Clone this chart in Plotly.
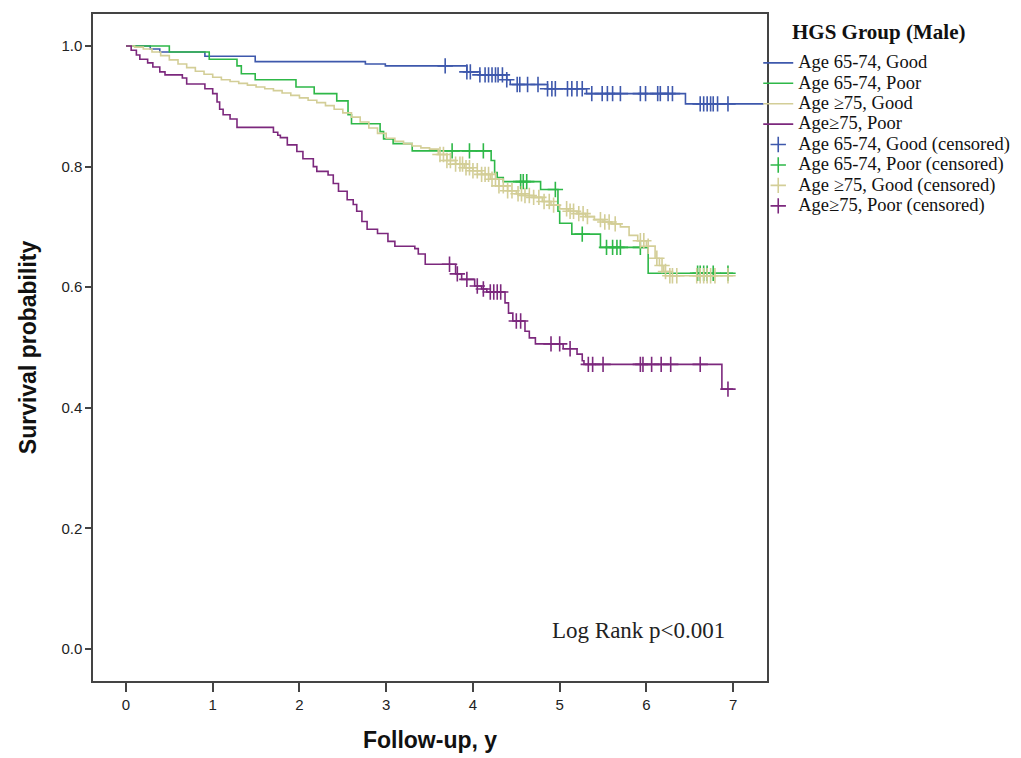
import numpy as np
import plotly.graph_objects as go

# ---- Data (Kaplan-Meier step knots) ----
blue_t = [0, 0.28, 0.39, 0.91, 1.49, 2.76, 2.99, 3.93, 4.08, 4.39, 4.43, 4.86, 5.31, 6.45, 7.35]
blue_s = [1.0, 0.995, 0.990, 0.983, 0.974, 0.970, 0.967, 0.957, 0.952, 0.944, 0.936, 0.929, 0.921, 0.904, 0.904]
blue_cens = [3.68, 3.93, 3.97, 4.08, 4.14, 4.18, 4.22, 4.26, 4.29, 4.34, 4.39, 4.51, 4.54, 4.63, 4.75,
             4.86, 4.91, 4.95, 5.09, 5.14, 5.20, 5.26, 5.37, 5.49, 5.55, 5.61, 5.70, 5.93, 5.99, 6.13,
             6.16, 6.25, 6.30, 6.62, 6.66, 6.70, 6.74, 6.77, 6.82, 6.94]

green_t = [0, 0.50, 0.96, 1.28, 1.33, 1.49, 1.96, 2.17, 2.43, 2.56, 2.60, 2.93, 2.97, 3.08, 3.30,
           4.21, 4.25, 4.28, 4.35, 4.78, 4.98, 5.00, 5.14, 5.47, 6.02, 7.0]
green_s = [1.0, 0.990, 0.978, 0.967, 0.954, 0.944, 0.932, 0.921, 0.909, 0.886, 0.871, 0.858, 0.846, 0.838, 0.826,
           0.810, 0.790, 0.782, 0.775, 0.762, 0.726, 0.706, 0.688, 0.666, 0.623, 0.623]
green_cens = [3.76, 3.96, 4.12, 4.55, 4.58, 4.62, 4.95, 5.26, 5.54, 5.61, 5.66, 5.70, 5.93,
              6.59, 6.62, 6.66, 6.70, 6.77, 6.94]

tan_t = [0, 0.1, 0.2, 0.3, 0.4, 0.5, 0.6, 0.7, 0.8, 0.9, 1.0, 1.1, 1.2, 1.3, 1.4, 1.5, 1.6, 1.7, 1.8, 1.9,
         2.0, 2.1, 2.2, 2.3, 2.4, 2.5, 2.6, 2.7, 2.8, 2.9, 3.0, 3.1, 3.2, 3.3, 3.4, 3.5, 3.6, 3.7, 3.8, 3.9,
         4.0, 4.1, 4.2, 4.3, 4.4, 4.5, 4.6, 4.7, 4.8, 4.9, 5.0, 5.1, 5.2, 5.3, 5.4, 5.5, 5.6, 5.7, 5.8, 5.9,
         6.0, 6.1, 6.15, 6.2, 6.27, 7.0]
tan_s = [1.0, 0.998, 0.995, 0.990, 0.984, 0.977, 0.970, 0.964, 0.958, 0.953, 0.948, 0.944, 0.941, 0.938, 0.935,
         0.932, 0.929, 0.926, 0.922, 0.918, 0.914, 0.910, 0.906, 0.901, 0.895, 0.889, 0.882, 0.874, 0.864, 0.855,
         0.847, 0.842, 0.838, 0.834, 0.831, 0.829, 0.820, 0.810, 0.804, 0.798, 0.793, 0.787, 0.779, 0.768, 0.760,
         0.755, 0.752, 0.749, 0.742, 0.736, 0.730, 0.726, 0.722, 0.717, 0.712, 0.708, 0.705, 0.700, 0.686, 0.677,
         0.668, 0.648, 0.636, 0.626, 0.619, 0.619]
tan_cens = [3.62, 3.66, 3.70, 3.74, 3.80, 3.85, 3.88, 3.92, 3.96, 4.00, 4.05, 4.10, 4.14, 4.18, 4.22, 4.26,
            4.30, 4.35, 4.40, 4.45, 4.52, 4.56, 4.60, 4.65, 4.70, 4.76, 4.82, 4.88, 4.93, 5.08, 5.12, 5.16,
            5.22, 5.27, 5.32, 5.47, 5.52, 5.57, 5.64, 5.93, 5.97, 6.02, 6.12, 6.18, 6.22, 6.27, 6.30, 6.35,
            6.58, 6.62, 6.66, 6.70, 6.74, 6.79, 6.94]

purple_t = [0, 0.06, 0.12, 0.16, 0.25, 0.31, 0.39, 0.45, 0.65, 0.70, 0.91, 1.00, 1.05, 1.08, 1.12, 1.20, 1.28,
            1.70, 1.75, 1.78, 1.86, 1.97, 2.04, 2.16, 2.20, 2.33, 2.39, 2.45, 2.55, 2.62, 2.66, 2.72, 2.78,
            2.90, 3.02, 3.10, 3.33, 3.37, 3.45, 3.80, 3.87, 4.02, 4.10, 4.16, 4.37, 4.41, 4.46, 4.60, 4.65,
            4.72, 5.04, 5.20, 5.26, 5.28, 6.87, 7.0]
purple_s = [1.0, 0.993, 0.985, 0.978, 0.972, 0.965, 0.957, 0.952, 0.947, 0.937, 0.929, 0.921, 0.907, 0.895,
            0.886, 0.879, 0.865, 0.857, 0.852, 0.848, 0.836, 0.825, 0.813, 0.800, 0.792, 0.786, 0.772, 0.759,
            0.745, 0.737, 0.726, 0.709, 0.696, 0.689, 0.676, 0.668, 0.664, 0.655, 0.638, 0.622, 0.613, 0.602,
            0.597, 0.592, 0.574, 0.557, 0.544, 0.527, 0.516, 0.506, 0.498, 0.489, 0.478, 0.472, 0.431, 0.431]
purple_cens = [3.73, 3.82, 3.93, 4.05, 4.12, 4.20, 4.24, 4.28, 4.32, 4.50, 4.55, 4.90, 5.00, 5.12, 5.33,
               5.38, 5.50, 5.93, 5.96, 6.06, 6.17, 6.28, 6.62, 6.94]

names = ["Age 65-74, Good", "Age 65-74, Poor", "Age \u226575, Good", "Age\u226575, Poor"]
colors = ["#3E58AC", "#2EB848", "#D3CE97", "#7C287D"]
groups = [(blue_t, blue_s, blue_cens), (green_t, green_s, green_cens),
          (tan_t, tan_s, tan_cens), (purple_t, purple_s, purple_cens)]
legend_title = "HGS Group (Male)"

SERIF = "Liberation Serif, Times New Roman, serif"


def step_value(ts, ss, t):
    i = np.searchsorted(np.array(ts), t, side="right") - 1
    return np.array(ss)[i]


def leg(txt):
    return "<span style='font-size:18.5px'>" + txt + "</span>"


fig = go.Figure()
for name, col, (t, s, _) in zip(names, colors, groups):
    fig.add_trace(go.Scatter(x=t, y=s, mode="lines", line=dict(color=col, width=1.6, shape="hv"),
                             name=leg(name)))
for name, col, (t, s, c) in zip(names, colors, groups):
    fig.add_trace(go.Scatter(x=c, y=step_value(t, s, c), mode="markers",
                             marker=dict(symbol="cross-thin", size=11,
                                         line=dict(color=col, width=1.6)),
                             name=leg(name + " (censored)")))

fig.add_annotation(x=6.93, y=0.031, xref="x", yref="y", text="Log Rank p<0.001", showarrow=False,
                   xanchor="right", yanchor="middle",
                   font=dict(family=SERIF, size=23, color="#222"))
# legend heading
fig.add_annotation(x=1.165, y=0.973, xref="paper", yref="paper", text="<b>" + legend_title + "</b>",
                   showarrow=False, xanchor="center", yanchor="middle",
                   font=dict(family=SERIF, size=21, color="#111"))

axis_common = dict(showline=True, linecolor="#444", linewidth=1.5, mirror=True, ticks="outside",
                   tickcolor="#444", tickwidth=1.5, showgrid=False, zeroline=False,
                   tickfont=dict(family="Liberation Sans Narrow, Arial Narrow, sans-serif", size=15,
                                 color="#222"))
fig.update_xaxes(range=[-0.38, 7.39], tickvals=[0, 1, 2, 3, 4, 5, 6, 7], ticklen=9,
                 title=dict(text="<b>Follow-up, y</b>", standoff=20,
                            font=dict(family="Liberation Sans, Arial, sans-serif", size=23, color="#111")),
                 **axis_common)
fig.update_yaxes(range=[-0.053, 1.053], tickvals=[0, 0.2, 0.4, 0.6, 0.8, 1.0], tickformat=".1f", ticklen=6,
                 title=dict(text="<b>Survival probability</b>", standoff=18,
                            font=dict(family="Liberation Sans, Arial, sans-serif", size=23, color="#111")),
                 **axis_common)

fig.update_layout(
    width=1013, height=750,
    margin=dict(l=85, r=254, t=4, b=77),
    plot_bgcolor="white", paper_bgcolor="white",
    legend=dict(x=0.987, xanchor="left", y=0.9495, yanchor="top", tracegroupgap=0,
                bgcolor="rgba(0,0,0,0)", itemwidth=30,
                font=dict(family=SERIF, size=13.4, color="#111")),
)

fig.write_html("out.html")
